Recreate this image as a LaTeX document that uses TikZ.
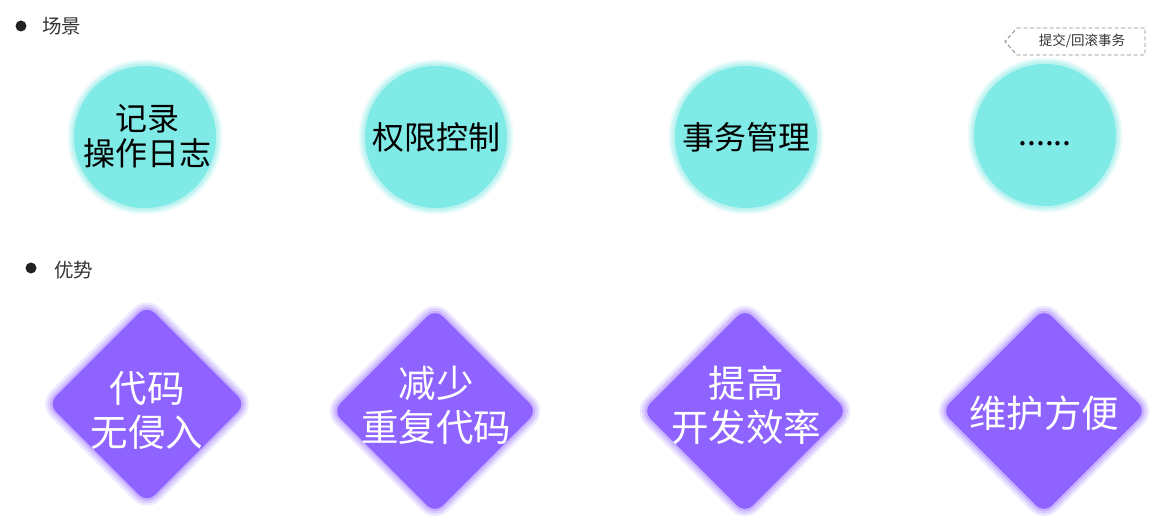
\documentclass[tikz,border=0pt]{standalone}
\usetikzlibrary{shapes.geometric}
\usepackage{fontspec}
\setmainfont{Noto Sans CJK SC}
\definecolor{cyanfill}{HTML}{80EAE6}
\definecolor{cyanglow}{HTML}{B4F2EF}
\definecolor{purfill}{HTML}{8F63FF}
\definecolor{purglow}{HTML}{BFA6FF}
\definecolor{bul}{HTML}{222222}
\definecolor{txt}{HTML}{333333}
\definecolor{tagline}{HTML}{8C8C8C}
\tikzset{
  scene/.style={circle, minimum size=142pt, inner sep=0pt, fill=cyanfill,
    preaction={draw=cyanglow, line width=13pt, opacity=0.25},
    preaction={draw=cyanglow, line width=9pt, opacity=0.45},
    preaction={draw=cyanglow, line width=5pt, opacity=0.75}},
  scenetext/.style={align=center, text=black, font=\fontsize{32}{35}\selectfont, inner sep=0pt},
  adv/.style={diamond, aspect=1, inner sep=0pt, fill=purfill, rounded corners=11pt,
    preaction={draw=purglow, line width=15pt, opacity=0.25, line join=round},
    preaction={draw=purglow, line width=10pt, opacity=0.4, line join=round},
    preaction={draw=purglow, line width=5pt, opacity=0.7, line join=round}},
  advtext/.style={align=center, text=white, font=\fontsize{37.5}{44}\selectfont, inner sep=0pt},
  bulletdot/.style={circle, fill=bul, minimum size=11pt, inner sep=0pt},
  heading/.style={anchor=west, text=txt, font=\fontsize{19.5}{22}\selectfont, inner sep=0pt},
  tagbox/.style={draw=tagline, line width=0.9pt, dash pattern=on 4pt off 2.5pt},
  tagtext/.style={text=txt, font=\fontsize{13.5}{15}\selectfont, inner sep=0pt}
}
\begin{document}
\begin{tikzpicture}[x=1pt, y=-1pt]
\useasboundingbox (0,0) rectangle (1153,521);
% headings
\node[bulletdot] (b1) at (21,26) {};
\node[heading] (h1) at (42,26) {场景};
\node[bulletdot] (b2) at (31,268) {};
\node[heading] (h2) at (54,270) {优势};
% tag
\coordinate (t1) at (1017,28);
\coordinate (t2) at (1145,28);
\coordinate (t3) at (1145,55);
\coordinate (t4) at (1017,55);
\coordinate (t5) at (1005,41.5);
\draw[tagbox] (t1) -- (t2) -- (t3) -- (t4) -- (t5) -- cycle;
\node[tagtext] (tag) at (1082,41) {提交/回滚事务};
% scene circles
\node[scene] (c1) at (145,137) {};
\node[scene] (c2) at (436,137) {};
\node[scene] (c3) at (746,137) {};
\node[scene] (c4) at (1045,135) {};
\node[scenetext] (ct1) at (147,136) {记录\\操作日志};
\node[scenetext] (ct2) at (436,137) {权限控制};
\node[scenetext] (ct3) at (746,137) {事务管理};
\node[scenetext] (ct4) at (1045,144) {......};
% advantage diamonds
\node[adv, minimum size=198pt] (d1) at (147,404) {};
\node[adv, minimum size=205pt] (d2) at (435,411) {};
\node[adv, minimum size=205pt] (d3) at (745,411) {};
\node[adv, minimum size=205pt] (d4) at (1044,411) {};
\node[advtext] (dt1) at (147,410) {代码\\无侵入};
\node[advtext] (dt2) at (436,405) {减少\\重复代码};
\node[advtext] (dt3) at (746,405) {提高\\开发效率};
\node[advtext] (dt4) at (1044,413) {维护方便};
\end{tikzpicture}
\end{document}
